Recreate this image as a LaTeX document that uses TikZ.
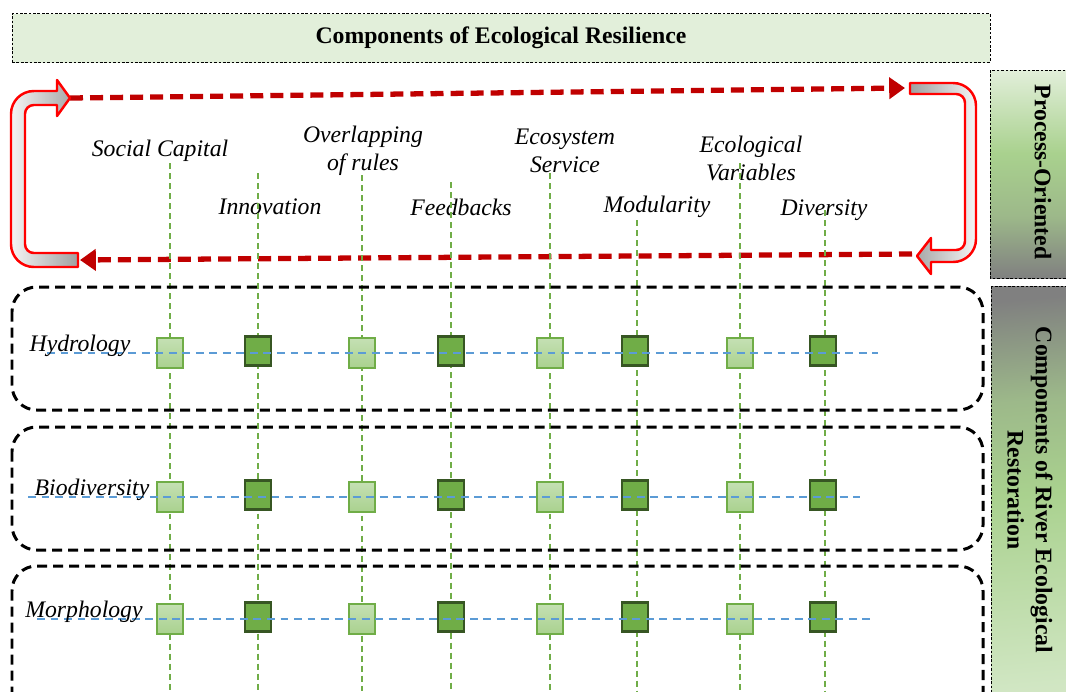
\documentclass[tikz,border=0pt]{standalone}
\usepackage{fontspec}
\setmainfont{Liberation Serif}
\usetikzlibrary{arrows.meta}

\definecolor{titlefill}{RGB}{226, 239, 218}
\definecolor{midgreen}{RGB}{169, 209, 142}
\definecolor{palegreen}{RGB}{197, 224, 180}
\definecolor{colgreen}{RGB}{112, 173, 71}
\definecolor{darkgreen}{RGB}{55, 86, 35}
\definecolor{rowblue}{RGB}{91, 155, 213}
\definecolor{loopred}{RGB}{192, 0, 0}
\definecolor{rimred}{RGB}{255, 0, 0}
\definecolor{sidegray}{RGB}{128, 128, 128}
\pgfdeclareverticalshading{procshade}{100bp}{
    color(0bp)=(sidegray);
    color(25bp)=(sidegray);
    color(40bp)=(midgreen!70!sidegray);
    color(55bp)=(midgreen);
    color(75bp)=(titlefill);
    color(100bp)=(titlefill)
}
\pgfdeclareverticalshading{restshade}{100bp}{
    color(0bp)=(palegreen!80!white);
    color(25bp)=(palegreen!80!white);
    color(50bp)=(midgreen);
    color(62bp)=(midgreen!70!sidegray);
    color(75bp)=(sidegray);
    color(100bp)=(sidegray)
}
\newcommand{\labelfont}{\fontsize{13.5}{16}\selectfont}
\newcommand{\restorow}[8]{
    \draw[rowbox] (12,#2) rectangle (983,#3);
    \foreach \k/\cx in {1/170, 3/362, 5/550, 7/740}
        \node[lightsq] (#1-sq\k) at (\cx,#4) {};
    \foreach \k/\cx in {2/258, 4/451, 6/635, 8/823}
        \node[darksq] (#1-sq\k) at (\cx,#4) {};
    \coordinate (#1-w) at (#7,#4);
    \coordinate (#1-e) at (#8,#4);
    \draw[rowline] (#1-w) -- (#1-e);
    \node[rowlabel] (#1-label) at (#6,#4-7) {#5};
}

\begin{document}
\begin{tikzpicture}[x=0.02cm, y=-0.02cm,
        titlebox/.style={draw=black, thin, dash pattern=on 1.5pt off 1pt, fill=titlefill,
            minimum width=19.56cm, minimum height=0.98cm, font=\labelfont\bfseries},
        sidebox/.style={draw=black, thin, dash pattern=on 1.5pt off 1pt},
        sidetext/.style={rotate=-90, align=center, font=\labelfont\bfseries},
        collabel/.style={align=center, font=\labelfont\itshape, inner sep=1pt},
        rowlabel/.style={font=\labelfont\itshape, inner sep=1pt},
        coldash/.style={colgreen, line width=0.6pt, dash pattern=on 3.4pt off 2.3pt},
        rowline/.style={rowblue, line width=0.7pt, dash pattern=on 4.5pt off 3.2pt},
        rowbox/.style={black, line width=1.7pt, dash pattern=on 5.7pt off 3.4pt, rounded corners=14pt},
        lightsq/.style={draw=colgreen, line width=0.6pt, top color=palegreen, bottom color=midgreen,
            minimum width=0.52cm, minimum height=0.6cm, inner sep=0pt},
        darksq/.style={draw=darkgreen, line width=1.6pt, fill=colgreen,
            minimum width=0.52cm, minimum height=0.58cm, inner sep=0pt, yshift=1.2pt},
        cyclearrow/.style={loopred, line width=3pt, dash pattern=on 7.4pt off 4pt,
            -{Triangle[length=9pt, width=12pt]}},
        hollowarrow/.style={draw=rimred, line width=1.4pt, line join=round}
    ]
    \useasboundingbox (0,0) rectangle (1066,691);
    \clip (0,0) rectangle (1066,691);

    % header
    \node[titlebox] (title) at (501,38) {Components of Ecological Resilience};
    \draw[sidebox, shading=procshade] (990,70) rectangle (1070,278);
    \node[sidetext] (process) at (1043,172) {Process-Oriented};
    \draw[sidebox, shading=restshade, shading angle=5] (991,286) rectangle (1070,700);
    \node[sidetext] (restore) at (1030,490) {Components of River Ecological\\Restoration};

    % process loop
    \coordinate (looptl) at (70,98);
    \coordinate (looptr) at (905,88);
    \coordinate (loopbr) at (912,254);
    \coordinate (loopbl) at (80,260);
    \draw[cyclearrow] (looptl) -- (looptr);
    \draw[cyclearrow] (loopbr) -- (loopbl);
    \draw[hollowarrow, left color=gray!8, right color=gray!75]
        (78,253) -- (78,267) [rounded corners=13pt] -- (11,267) -- (11,91)
        [sharp corners] -- (57,91) -- (57,80) -- (70,98) -- (57,116) -- (57,105)
        [rounded corners=5pt] -- (25,105) -- (25,253) [sharp corners] -- (78,253) -- cycle;
    \draw[hollowarrow, left color=gray!75, right color=gray!8]
        (910,94) -- (910,83) [rounded corners=13pt] -- (976,83) -- (976,262)
        [sharp corners] -- (931,262) -- (931,274) -- (917,256) -- (931,238) -- (931,250)
        [rounded corners=5pt] -- (965,250) -- (965,94) [sharp corners] -- (910,94) -- cycle;

    % resilience components
    \node[collabel] (social) at (160,151) {Social Capital};
    \node[collabel] (innov) at (270,207) {Innovation};
    \node[collabel] (overlap) at (363,151) {Overlapping\\of rules};
    \node[collabel] (feedback) at (461,207) {Feedbacks};
    \node[collabel] (ecoserv) at (565,151) {Ecosystem\\Service};
    \node[collabel] (modular) at (657,207) {Modularity};
    \node[collabel] (ecovar) at (751,158) {Ecological\\Variables};
    \node[collabel] (divers) at (824,210) {Diversity};
    \foreach \n/\cx/\cy in {1/170/163, 2/258/173, 3/362/175, 4/451/182,
                            5/550/173, 6/637/220, 7/740/163, 8/825/210} {
        \coordinate (col\n-top) at (\cx,\cy);
        \coordinate (col\n-bot) at (\cx,691);
        \draw[coldash] (col\n-top) -- (col\n-bot);
    }

    % restoration components
    \restorow{hydro}{287}{410}{353}{Hydrology}{80}{47}{878}
    \restorow{biodiv}{427}{550}{497}{Biodiversity}{92}{28}{860}
    \restorow{morph}{566}{720}{619}{Morphology}{84}{37}{870}
\end{tikzpicture}
\end{document}
